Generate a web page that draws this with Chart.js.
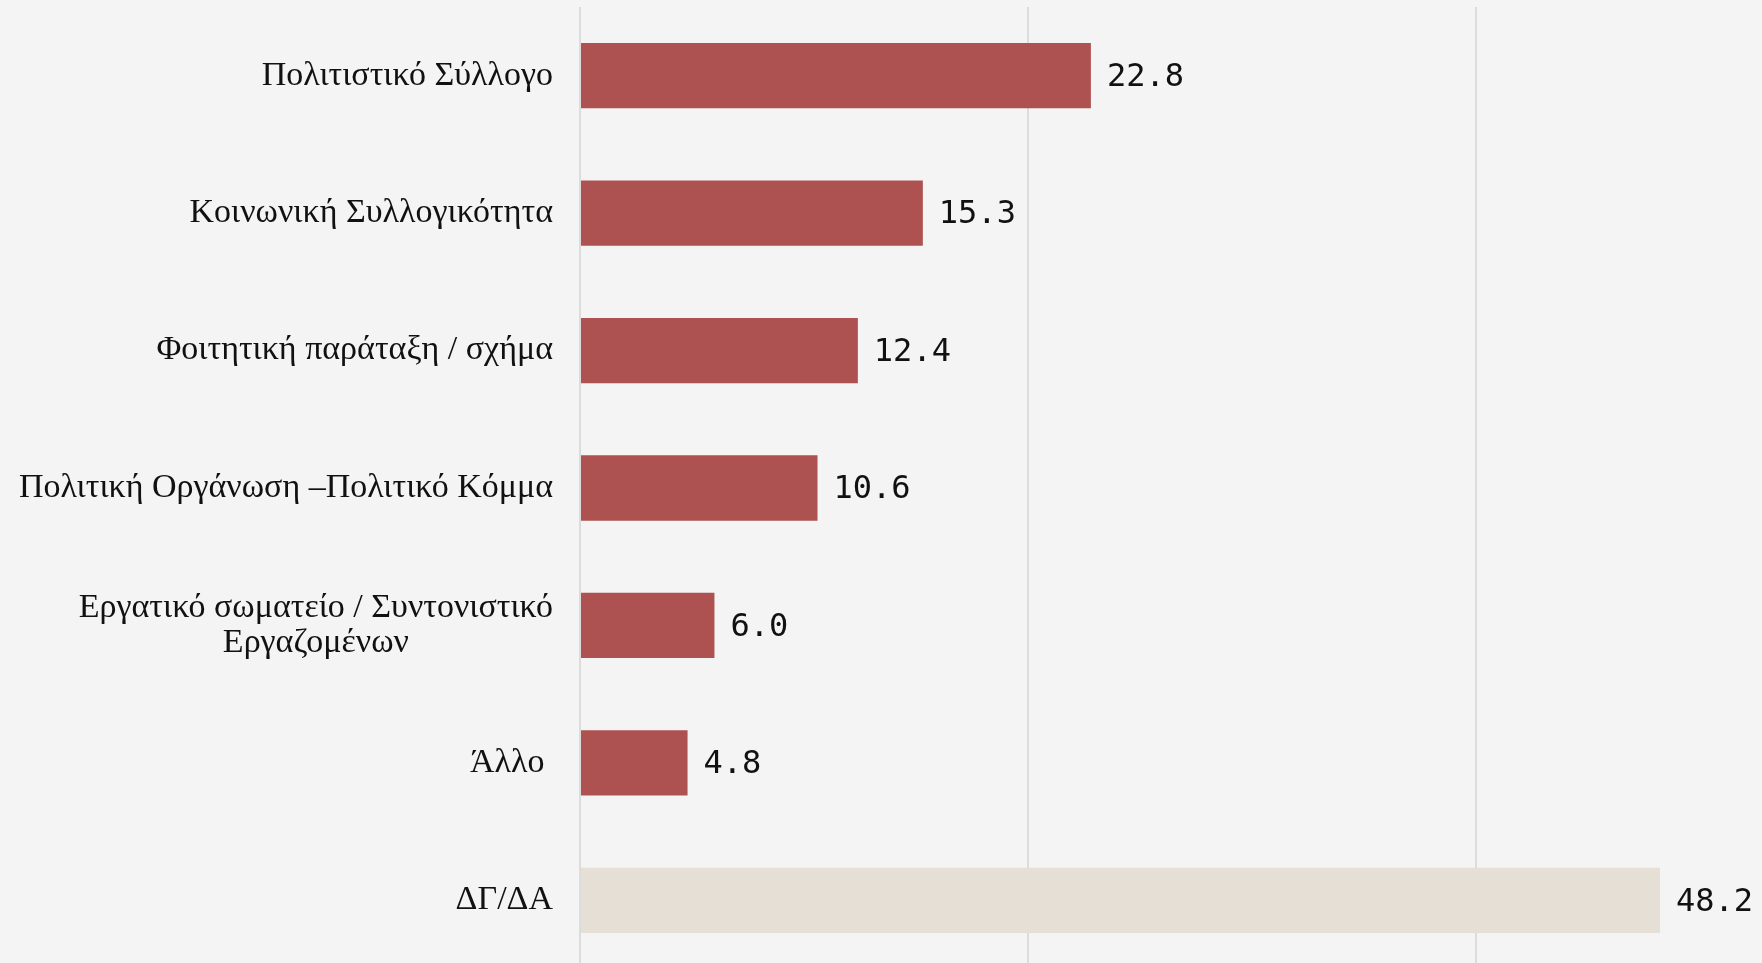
<!DOCTYPE html>
<html>
<head>
<meta charset="utf-8">
<script src="https://cdn.jsdelivr.net/npm/chart.js@4/dist/chart.umd.min.js"></script>
<style>
  html, body { margin: 0; padding: 0; background: #f4f4f4; overflow: hidden; }
  #wrap { width: 1762px; height: 969px; position: relative; }
</style>
</head>
<body>
<div id="wrap"><canvas id="c"></canvas></div>
<script>
const categories = [
  ["Πολιτιστικό Σύλλογο"],
  ["Κοινωνική Συλλογικότητα"],
  ["Φοιτητική παράταξη / σχήμα"],
  ["Πολιτική Οργάνωση –Πολιτικό Κόμμα"],
  ["Εργατικό σωματείο / Συντονιστικό", "Εργαζομένων"],
  ["Άλλο "],
  ["ΔΓ/ΔΑ"]
];
const values = [22.8, 15.3, 12.4, 10.6, 6.0, 4.8, 48.2];
const barColors = ["#ad5250", "#ad5250", "#ad5250", "#ad5250", "#ad5250", "#ad5250", "#e6dfd6"];
const gridTicks = [0, 20, 40];

const labelFont = '34px "Liberation Serif", serif';
const valueFont = '32px "DejaVu Sans Mono", monospace';

const labelsPlugin = {
  id: 'customLabels',
  afterDatasetsDraw(chart) {
    const ctx = chart.ctx;
    const yScale = chart.scales.y;
    const meta = chart.getDatasetMeta(0);
    ctx.save();
    ctx.font = labelFont;
    ctx.fillStyle = '#111';
    ctx.textBaseline = 'middle';
    ctx.textAlign = 'center';
    const right = chart.chartArea.left - 27;
    const lh = 35;
    categories.forEach((lines, i) => {
      const y = yScale.getPixelForTick(i);
      const w = Math.max(...lines.map(l => ctx.measureText(l).width));
      const cx = right - w / 2;
      const y0 = y - (lines.length - 1) * lh / 2;
      lines.forEach((l, j) => ctx.fillText(l, cx, y0 + j * lh));
    });
    ctx.font = valueFont;
    ctx.textAlign = 'left';
    meta.data.forEach((bar, i) => {
      ctx.fillText(values[i].toFixed(1), bar.x + 16, bar.y + 2);
    });
    ctx.restore();
  }
};

new Chart(document.getElementById('c'), {
  type: 'bar',
  data: {
    labels: categories,
    datasets: [{
      data: values,
      backgroundColor: barColors,
      borderWidth: 0,
      barPercentage: 0.475,
      categoryPercentage: 1.0
    }]
  },
  options: {
    indexAxis: 'y',
    responsive: true,
    maintainAspectRatio: false,
    animation: false,
    layout: { padding: { left: 580, top: 7, right: 0, bottom: 0 } },
    plugins: { legend: { display: false }, tooltip: { enabled: false } },
    scales: {
      x: {
        min: 0,
        max: 52.75,
        afterBuildTicks(scale) { scale.ticks = gridTicks.map(v => ({ value: v })); },
        ticks: { display: false },
        border: { display: false },
        grid: { color: '#dcdcdc', lineWidth: 2, drawTicks: false }
      },
      y: {
        display: false
      }
    }
  },
  plugins: [labelsPlugin]
});
</script>
</body>
</html>
